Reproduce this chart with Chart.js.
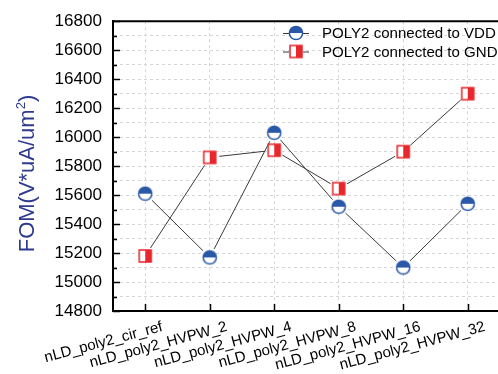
<!DOCTYPE html>
<html>
<head>
<meta charset="utf-8">
<script src="https://cdn.jsdelivr.net/npm/chart.js@4/dist/chart.umd.min.js"></script>
<style>
  html, body { margin: 0; padding: 0; overflow: hidden; background: #fff; }
  #wrap { width: 498px; height: 374px; overflow: hidden; }
  canvas { display: block; }
</style>
</head>
<body>
<div id="wrap"><canvas id="chart" width="508" height="374"></canvas></div>
<script>
// Device variants along the x axis
const categories = [
  'nLD_poly2_cir_ref',
  'nLD_poly2_HVPW_2',
  'nLD_poly2_HVPW_4',
  'nLD_poly2_HVPW_8',
  'nLD_poly2_HVPW_16',
  'nLD_poly2_HVPW_32'
];

// FOM values (V*uA/um^2)
const vddValues = [15610, 15170, 16030, 15520, 15100, 15540];
const gndValues = [15180, 15860, 15910, 15645, 15900, 16300];

const seriesNames = ['POLY2 connected to VDD', 'POLY2 connected to GND'];

// Y axis range: minor step 100, labelled every 200
const yMin = 14800;
const yMax = 16800;
const yMinorStep = 100;
const yLabelStep = 200;

const FONT = '"Liberation Sans", Arial, Helvetica, sans-serif';
const BLUE = '#2a58a8';
const RED = '#e8262b';
const TITLE_BLUE = '#2e3a8e';

// Pick a font size so a sample string spans a given width
const measureCtx = document.createElement('canvas').getContext('2d');
function sizeForWidth(text, width) {
  measureCtx.font = '100px ' + FONT;
  return 100 * width / measureCtx.measureText(text).width;
}
const legendSize = sizeForWidth('POLY2 connected to VDD', 174);
const xTickSize = sizeForWidth('nLD_poly2_HVPW_32', 150);
const yTickSize = sizeForWidth('16800', 47.5);
const titleSize = sizeForWidth('FOM(V*uA/um', 143);

// Half-filled circle: top half solid, bottom half white
function circleMarker(r, color) {
  const s = 18, m = s / 2;
  const c = document.createElement('canvas');
  c.width = c.height = s;
  const g = c.getContext('2d');
  g.fillStyle = '#fff';
  g.beginPath(); g.arc(m, m, r, 0, 2 * Math.PI); g.fill();
  g.fillStyle = color;
  g.beginPath(); g.arc(m, m, r, Math.PI, 2 * Math.PI); g.closePath(); g.fill();
  g.strokeStyle = color; g.lineWidth = 1.5;
  g.beginPath(); g.arc(m, m, r, 0, 2 * Math.PI); g.stroke();
  return c;
}

// Half-filled square: left half white, right half solid
function squareMarker(h, color) {
  const s = 18, m = s / 2;
  const c = document.createElement('canvas');
  c.width = c.height = s;
  const g = c.getContext('2d');
  g.fillStyle = '#fff';
  g.fillRect(m - h, m - h, 2 * h, 2 * h);
  g.fillStyle = color;
  g.fillRect(m, m - h, h, 2 * h);
  g.strokeStyle = color; g.lineWidth = 1.5;
  g.strokeRect(m - h, m - h, 2 * h, 2 * h);
  return c;
}

const vddMarker = circleMarker(6.6, BLUE);
const gndMarker = squareMarker(6, RED);

// Connecting lines that stop short of each marker
const gappedLines = {
  id: 'gappedLines',
  beforeDatasetsDraw(chart) {
    const ctx = chart.ctx;
    ctx.save();
    ctx.strokeStyle = '#3a3a3a';
    ctx.lineWidth = 1;
    chart.data.datasets.forEach((ds, i) => {
      const pts = chart.getDatasetMeta(i).data;
      const gap = 9.5;
      for (let k = 0; k < pts.length - 1; k++) {
        const a = pts[k], b = pts[k + 1];
        const dx = b.x - a.x, dy = b.y - a.y;
        const L = Math.hypot(dx, dy);
        if (L <= 2 * gap) continue;
        const ux = dx / L, uy = dy / L;
        ctx.beginPath();
        ctx.moveTo(a.x + ux * gap, a.y + uy * gap);
        ctx.lineTo(b.x - ux * gap, b.y - uy * gap);
        ctx.stroke();
      }
    });
    ctx.restore();
  }
};

// Inward tick marks and the top frame line
const frame = {
  id: 'frame',
  beforeDatasetsDraw(chart) {
    const { ctx, chartArea: ca, scales } = chart;
    ctx.save();
    ctx.strokeStyle = '#000';
    ctx.lineWidth = 1.5;
    scales.y.ticks.forEach(t => {
      const y = Math.round(scales.y.getPixelForValue(t.value)) + 0.5;
      const len = (t.value % yLabelStep === 0) ? 7 : 4;
      ctx.beginPath(); ctx.moveTo(ca.left, y); ctx.lineTo(ca.left + len, y); ctx.stroke();
    });
    categories.forEach((_, i) => {
      const x = Math.round(scales.x.getPixelForValue(i)) + 0.5;
      ctx.beginPath(); ctx.moveTo(x, ca.bottom); ctx.lineTo(x, ca.bottom - 7); ctx.stroke();
    });
    ctx.lineWidth = 2;
    ctx.beginPath(); ctx.moveTo(ca.left - 1, ca.top); ctx.lineTo(chart.width, ca.top); ctx.stroke();
    ctx.restore();
  }
};

// Legend in the upper right and the rotated y-axis title
const annotations = {
  id: 'annotations',
  afterDraw(chart) {
    const ctx = chart.ctx;
    ctx.save();
    const rows = [33, 51.5];
    const markers = [vddMarker, gndMarker];
    ctx.font = legendSize + 'px ' + FONT;
    ctx.textBaseline = 'middle';
    ctx.textAlign = 'left';
    rows.forEach((y, i) => {
      ctx.strokeStyle = '#3a3a3a';
      ctx.lineWidth = 1;
      ctx.beginPath(); ctx.moveTo(283, y + 0.5); ctx.lineTo(289, y + 0.5); ctx.stroke();
      ctx.beginPath(); ctx.moveTo(303, y + 0.5); ctx.lineTo(309, y + 0.5); ctx.stroke();
      const m = markers[i];
      ctx.drawImage(m, 296 - m.width / 2, y - m.height / 2);
      ctx.fillStyle = '#000';
      ctx.fillText(seriesNames[i], 322, y + 1);
    });

    // y-axis title with superscript
    const main = 'FOM(V*uA/um';
    const sup = '2';
    const tail = ')';
    ctx.translate(34, 173.5);
    ctx.rotate(-Math.PI / 2);
    ctx.fillStyle = TITLE_BLUE;
    ctx.textBaseline = 'alphabetic';
    const mainFont = titleSize + 'px ' + FONT, supFont = (titleSize * 0.6) + 'px ' + FONT;
    ctx.font = mainFont; const w1 = ctx.measureText(main).width; const w3 = ctx.measureText(tail).width;
    ctx.font = supFont; const w2 = ctx.measureText(sup).width;
    let x = -(w1 + w2 + w3) / 2;
    ctx.textAlign = 'left';
    ctx.font = mainFont; ctx.fillText(main, x, 0); x += w1;
    ctx.font = supFont; ctx.fillText(sup, x, -titleSize * 0.42); x += w2;
    ctx.font = mainFont; ctx.fillText(tail, x, 0);
    ctx.restore();
  }
};

new Chart(document.getElementById('chart'), {
  type: 'line',
  data: {
    labels: categories,
    datasets: [
      { label: seriesNames[0], data: vddValues, showLine: false, pointStyle: vddMarker, pointRadius: 7, pointHoverRadius: 7 },
      { label: seriesNames[1], data: gndValues, showLine: false, pointStyle: gndMarker, pointRadius: 7, pointHoverRadius: 7 }
    ]
  },
  options: {
    responsive: false,
    animation: false,
    events: [],
    layout: { padding: { left: 0, top: 19, right: 2, bottom: 0 } },
    plugins: { legend: { display: false }, tooltip: { enabled: false }, title: { display: false } },
    scales: {
      x: {
        type: 'category',
        offset: true,
        grid: { color: '#d6d6d6', lineWidth: 1, drawTicks: false },
        border: { display: true, color: '#000', width: 2, dash: [3, 3] },
        ticks: {
          color: '#000',
          font: { family: FONT, size: xTickSize },
          minRotation: 15,
          maxRotation: 15,
          labelOffset: 17,
          padding: 7,
          autoSkip: false
        },
        afterFit(scale) { scale.height = 63; }
      },
      y: {
        min: yMin,
        max: yMax,
        grid: { color: '#d6d6d6', lineWidth: 1, drawTicks: false },
        border: { display: true, color: '#000', width: 2, dash: [3, 3] },
        ticks: {
          stepSize: yMinorStep,
          autoSkip: false,
          color: '#000',
          font: { family: FONT, size: yTickSize },
          padding: 11,
          callback: v => (v % yLabelStep === 0 ? String(v) : '')
        },
        afterFit(scale) { scale.width = 113; }
      }
    }
  },
  plugins: [gappedLines, frame, annotations]
});
</script>
</body>
</html>
